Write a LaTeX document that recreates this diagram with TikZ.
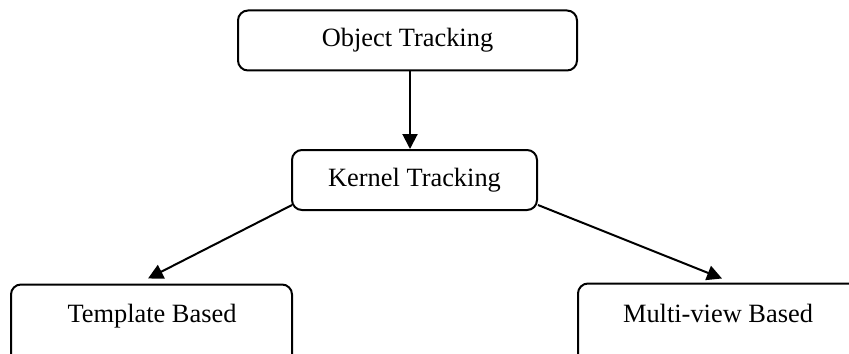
\documentclass[tikz,border=0pt]{standalone}
\usepackage{fontspec}
\setmainfont{Liberation Serif}
\usetikzlibrary{arrows.meta}

\tikzset{
  box/.style={draw, line width=1pt, rounded corners=5pt, inner sep=0pt},
  lbl/.style={font=\fontsize{13.2}{16}\selectfont, inner sep=0pt},
  arr/.style={line width=1pt, -{Triangle[length=7.5pt,width=7.5pt]}}
}

\begin{document}
\begin{tikzpicture}[x=0.5pt,y=-0.5pt]
  % page frame in pixel units
  \clip (0,0) rectangle (849,353);

  % top level
  \node[box, lbl, minimum width=169.5pt, minimum height=30pt] (obj) at (407.5,40.5) {Object Tracking};

  % middle level
  \node[box, lbl, minimum width=122.5pt, minimum height=30pt] (ker) at (414.5,180) {Kernel Tracking\hspace{11.5pt}};

  % bottom level (boxes run past the lower edge)
  \node[box, minimum width=140.5pt, minimum height=45pt, anchor=north] (tpl) at (151.5,283.5) {};
  \node[lbl, anchor=base] (tpltext) at (152,322) {Template Based};

  \node[box, minimum width=140pt, minimum height=45pt, anchor=north] (mv) at (718,282.5) {};
  \node[lbl, anchor=base] (mvtext) at (718,322) {Multi-view Based};

  % connectors
  \draw[arr] ([xshift=1.25pt]obj.south) -- ([xshift=1.25pt]obj.south |- ker.north);
  \draw[arr] ([shift={(0.5pt,3pt)}]ker.south west) -- ([shift={(-1.75pt,2.5pt)}]tpl.north);
  \draw[arr] ([shift={(0pt,3pt)}]ker.south east) -- ([shift={(2pt,2pt)}]mv.north);
\end{tikzpicture}
\end{document}
